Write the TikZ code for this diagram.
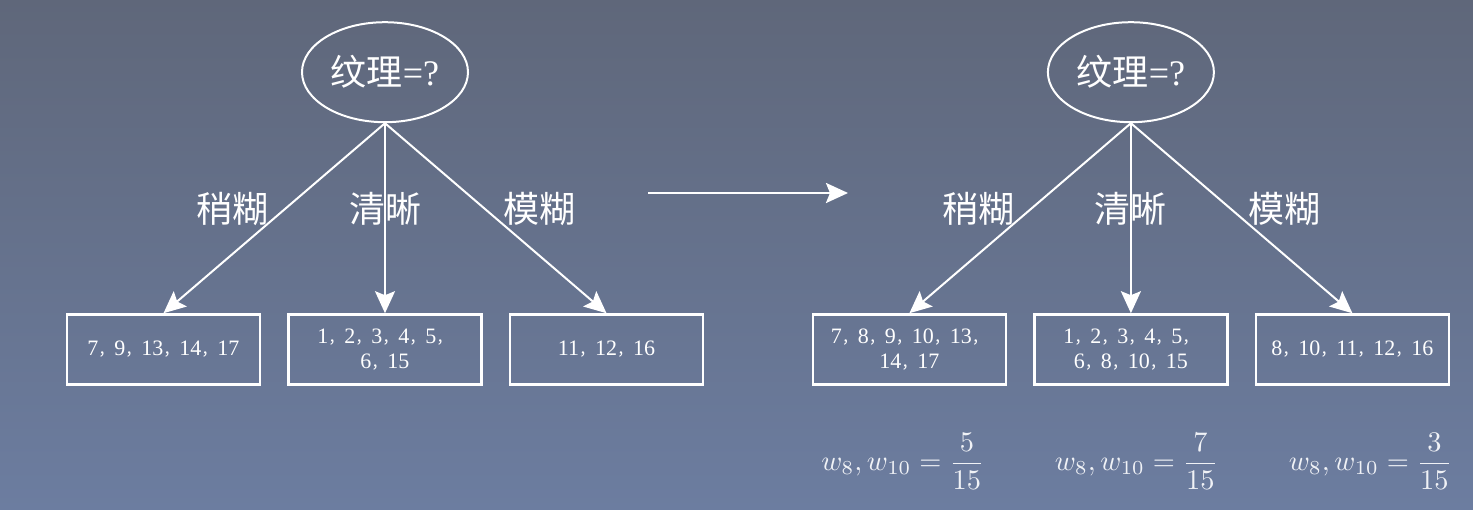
\documentclass[tikz,border=0pt]{standalone}
\usepackage[no-math]{fontspec}
\setmainfont{Liberation Serif}
\newfontfamily\cjk{Noto Sans CJK SC}
\usepackage{graphicx}
\usepackage{xcolor}
\usepackage{tikz}
\usetikzlibrary{shapes}
\usetikzlibrary{arrows.meta}
\usetikzlibrary{positioning}
\definecolor{bgtop}{RGB}{95,103,122}
\definecolor{bgbottom}{RGB}{108,125,160}
\colorlet{ink}{white}
\newcommand{\dou}{{\cjk\fontsize{16}{25}\selectfont ，}}
\newcommand{\wfrac}[1]{\scalebox{2.84}{$\displaystyle w_8,w_{10}=\frac{#1}{15}$}}
\tikzset{
  % node options
  feature/.style={ellipse,draw=ink,line width=2pt,minimum width=166pt,minimum height=100pt,inner sep=0pt,text=ink,font=\fontsize{36}{43}\selectfont,anchor=center},
  idset/.style={rectangle,draw=ink,line width=2.5pt,minimum width=193pt,minimum height=70pt,align=center,text=ink,font=\fontsize{22}{25}\selectfont,anchor=center},
  attrvalue/.style={text=ink,font=\cjk\fontsize{36}{43}\selectfont},
  weightfrac/.style={text=ink!90!bgbottom,inner sep=0pt},
  % path options
  branch/.style={-{Stealth[length=22pt,width=20pt,inset=4pt]},draw=ink,line width=2pt},
  % matrix options
  treematrix/.style={row sep=190pt,column sep=26pt,inner sep=0pt},
}

\begin{document}
\begin{tikzpicture}[x=1pt,y=1pt]
  \useasboundingbox (0,0) rectangle (1473,-509);
  \shade[top color=bgtop,bottom color=bgbottom] (0,0) rectangle (1473,-509);
  \matrix (L) [treematrix,anchor=north] at (385,-21) {
    & \node[feature] (Ltop) {{\cjk 纹理}=?}; & \\
    \node[idset] (L1) {7\dou 9\dou 13\dou 14\dou 17}; & \node[idset] (L2) {1\dou 2\dou 3\dou 4\dou 5\dou\\6\dou 15}; & \node[idset] (L3) {11\dou 12\dou 16}; \\
  };
  \draw[branch] (Ltop.south) -- node[attrvalue,pos=0.45,left=12pt] {稍糊} (L1.north);
  \draw[branch] (Ltop.south) -- node[attrvalue,pos=0.45] {清晰} (L2.north);
  \draw[branch] (Ltop.south) -- node[attrvalue,pos=0.45,right=14pt] {模糊} (L3.north);
  % arrow between the two trees
  \coordinate (from) at (648,-193);
  \coordinate (to) at (848,-193);
  \draw[branch,line width=2.5pt] (from) -- (to);
  \matrix (R) [treematrix,right=107pt of L] {
    & \node[feature] (Rtop) {{\cjk 纹理}=?}; & \\
    \node[idset] (R1) {7\dou 8\dou 9\dou 10\dou 13\dou\\14\dou 17}; & \node[idset] (R2) {1\dou 2\dou 3\dou 4\dou 5\dou\\6\dou 8\dou 10\dou 15}; & \node[idset] (R3) {8\dou 10\dou 11\dou 12\dou 16}; \\
  };
  \draw[branch] (Rtop.south) -- node[attrvalue,pos=0.45,left=12pt] {稍糊} (R1.north);
  \draw[branch] (Rtop.south) -- node[attrvalue,pos=0.45] {清晰} (R2.north);
  \draw[branch] (Rtop.south) -- node[attrvalue,pos=0.45,right=14pt] {模糊} (R3.north);
  \node[weightfrac,below=47pt of R1,xshift=-6.5pt] (w1) {\wfrac{5}};
  \node[weightfrac,below=47pt of R2,xshift=5.5pt] (w2) {\wfrac{7}};
  \node[weightfrac,below=47pt of R3,xshift=18pt] (w3) {\wfrac{3}};
\end{tikzpicture}
\end{document}
